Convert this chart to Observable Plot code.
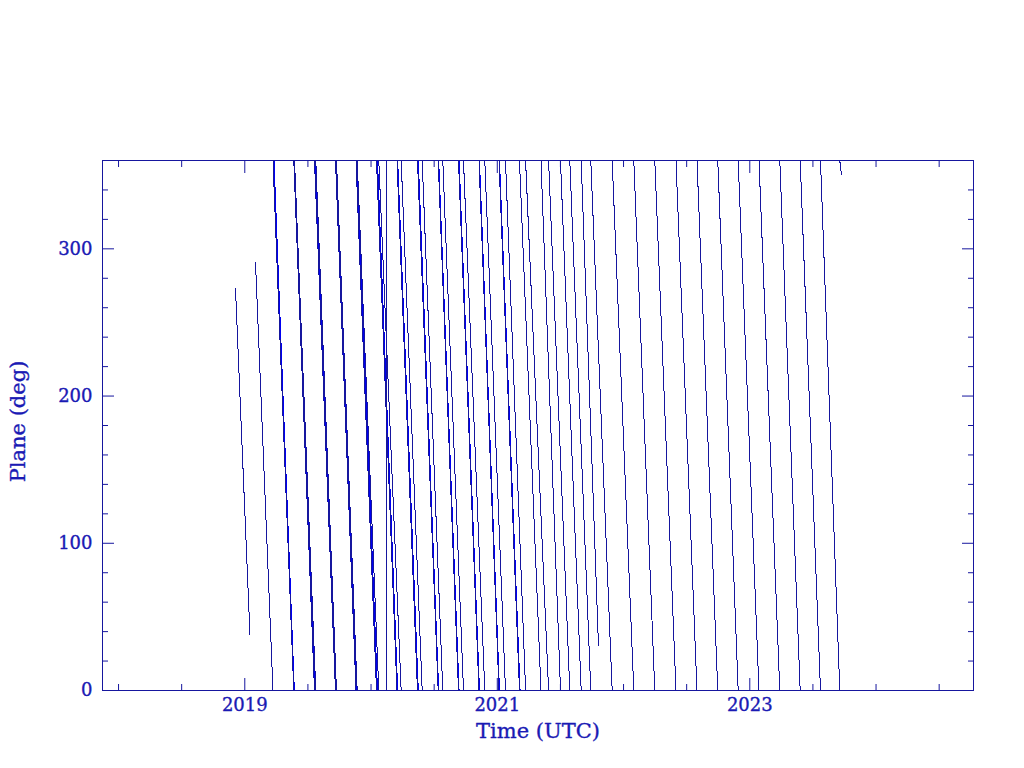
<!DOCTYPE html>
<html>
<head>
<meta charset="utf-8">
<script src="https://cdn.jsdelivr.net/npm/d3@7"></script>
<script src="https://cdn.jsdelivr.net/npm/@observablehq/plot@0.6"></script>
<style>
  html, body { margin: 0; padding: 0; background: #ffffff; }
  #chart svg { display: block; }
</style>
</head>
<body>
<div id="chart"></div>
<script>
// ---- Data (decimal years, plane angle in degrees) ----
// Times at which each object's plane wraps (360 at this time, reaching 0 at the next one)
const wrapA = [2019.2234, 2019.3881, 2019.5521, 2019.7184, 2019.8808, 2020.0432, 2020.2055,
  2020.3679, 2020.5319, 2020.6927, 2020.8550, 2021.0135, 2021.1758, 2021.3461, 2021.5006, 2021.6645];
const wrapB = [2019.3937, 2019.5624, 2019.7263, 2019.8903, 2020.0614, 2020.2388, 2020.4051,
  2020.5683, 2020.7323, 2020.9010, 2021.0650, 2021.2242, 2021.4063, 2021.5743, 2021.7406,
  2021.9101, 2022.0812, 2022.2475, 2022.4154, 2022.5818, 2022.7465, 2022.9081, 2023.0729,
  2023.2376, 2023.3992, 2023.5600, 2023.7129];
const wrapC = [2019.2313, 2019.3925, 2019.5584, 2019.7248, 2019.8863, 2020.0511, 2020.2111,
  2020.3743, 2020.5358, 2020.6974, 2020.8590, 2021.0174, 2021.1806];

// Partial tracks (data gaps / end of record)
const partStart    = [2018.9263, 2019.0848, 2021.6645, 2023.7129];
const partStartVal = [273.5, 291, 360, 360];
const partEnd      = [2019.0412, 2019.2234, 2021.8016, 2023.7263];
const partEndVal   = [37.4, 0, 30, 350];

// Wrap connection drawn in the record (0 -> 360)
const jumpTime = [2020.1203];

// Axis ticks
const xMajor = [2019, 2021, 2023];
const xMinor = [2018, 2018.5, 2019.5, 2020, 2020.5, 2021.5, 2022, 2022.5, 2023.5, 2024, 2024.5];
const yMajor = [0, 100, 200, 300];
const yMinor = [20, 40, 60, 80, 120, 140, 160, 180, 220, 240, 260, 280, 320, 340];

const xDomain = [2017.873, 2024.772];
const yDomain = [0, 360];

const xTitle = "Time (UTC)";
const yTitle = "Plane (deg)";

// ---- Build tables ----
const NAVY = "#16169e";
const BLUE = "#0000f2";
const TEXT = "#1a1ab4";

function wrapSegs(w) {
  return d3.pairs(w).map(([a, b]) => ({t0: a, v0: 360, t1: b, v1: 0}));
}
const segA = wrapSegs(wrapA);
const segB = wrapSegs(wrapB);
const segC = wrapSegs(wrapC);
const segPart = partStart.map((t, i) => ({t0: t, v0: partStartVal[i], t1: partEnd[i], v1: partEndVal[i]}));
const segJump = jumpTime.map(t => ({t0: t, v0: 0, t1: t, v1: 360}));
const navySegs = [...segA, ...segB, ...segPart, ...segJump];

const linkOpts = {x1: "t0", y1: "v0", x2: "t1", y2: "v1", strokeWidth: 1, shapeRendering: "crispEdges"};

const chart = Plot.plot({
  width: 1024,
  height: 768,
  marginLeft: 102,
  marginRight: 51,
  marginTop: 160,
  marginBottom: 78,
  style: {fontFamily: "'DejaVu Serif', serif", fontSize: "18px", color: NAVY, background: "#ffffff"},
  x: {type: "linear", domain: xDomain, axis: null},
  y: {type: "linear", domain: yDomain, axis: null},
  marks: [
    Plot.link(segC, {...linkOpts, stroke: BLUE}),
    Plot.link(navySegs, {...linkOpts, stroke: NAVY}),
    Plot.frame({stroke: NAVY, strokeWidth: 1, shapeRendering: "crispEdges"}),
    // bottom axis
    Plot.axisX({anchor: "bottom", ticks: xMajor, tickSize: -12, tickPadding: 20, tickFormat: d => String(d),
      stroke: NAVY, fill: TEXT, textStroke: TEXT, textStrokeWidth: 0.35, label: null, letterSpacing: 1}),
    Plot.axisX({anchor: "bottom", ticks: xMinor, tickSize: -6, stroke: NAVY, fill: "none", label: null}),
    // top axis
    Plot.axisX({anchor: "top", ticks: xMajor, tickSize: -12, stroke: NAVY, fill: "none", label: null}),
    Plot.axisX({anchor: "top", ticks: xMinor, tickSize: -6, stroke: NAVY, fill: "none", label: null}),
    // left axis
    Plot.axisY({anchor: "left", ticks: yMajor, tickSize: -12, tickPadding: 22, tickFormat: d => String(d),
      stroke: NAVY, fill: TEXT, textStroke: TEXT, textStrokeWidth: 0.35, label: null, letterSpacing: 1}),
    Plot.axisY({anchor: "left", ticks: yMinor, tickSize: -6, stroke: NAVY, fill: "none", label: null}),
    // right axis
    Plot.axisY({anchor: "right", ticks: yMajor, tickSize: -12, stroke: NAVY, fill: "none", label: null}),
    Plot.axisY({anchor: "right", ticks: yMinor, tickSize: -6, stroke: NAVY, fill: "none", label: null}),
    // axis titles
    Plot.text([xTitle], {text: d => d, frameAnchor: "bottom", textAnchor: "middle", dy: 47, fontSize: 21,
      fill: TEXT, stroke: TEXT, strokeWidth: 0.35, letterSpacing: 1}),
    Plot.text([yTitle], {text: d => d, frameAnchor: "left", textAnchor: "middle", dx: -84, dy: -4, rotate: -90,
      fontSize: 21, fill: TEXT, stroke: TEXT, strokeWidth: 0.35, letterSpacing: 1})
  ]
});

document.getElementById("chart").appendChild(chart);
</script>
</body>
</html>
